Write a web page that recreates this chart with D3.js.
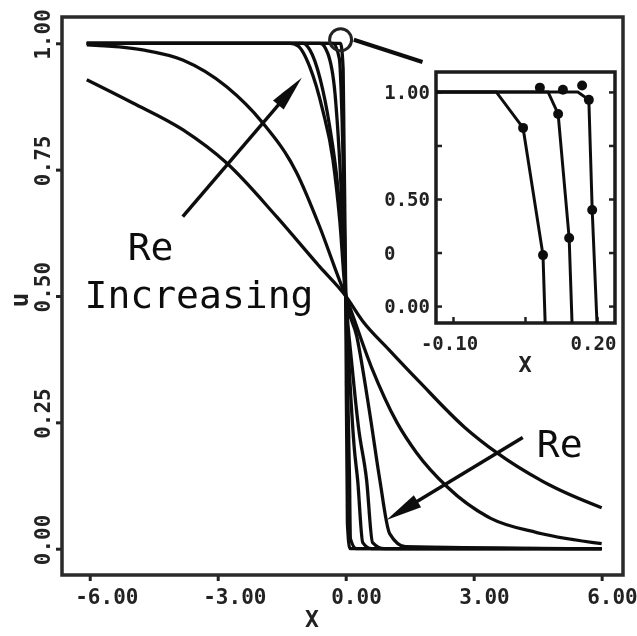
<!DOCTYPE html>
<html>
<head>
<meta charset="utf-8">
<script src="https://cdn.jsdelivr.net/npm/d3@7"></script>
<style>
body { margin: 0; background: #fff; }
svg { display: block; }
</style>
</head>
<body>
<script>
// tick values and labels, main plot
var xTicks = [-6, -3, 0, 3, 6];
var xTickLabels = ["-6.00", "-3.00", "0.00", "3.00", "6.00"];
var yTicks = [0, 0.25, 0.5, 0.75, 1];
var yTickLabels = ["0.00", "0.25", "0.50", "0.75", "1.00"];

// u(x) profiles, lowest Re first
var curveRe1 = [[-6.07,0.928],[-4.99,0.882],[-3.82,0.829],[-2.79,0.763],[-1.62,0.657],[-0.61,0.558],[0,0.5],[0.40,0.45],[1.0,0.395],[1.73,0.33],[2.79,0.24],[3.54,0.19],[4.85,0.123],[6.0,0.081]];
var curveRe2 = [[-6.07,0.997],[-4.76,0.987],[-3.82,0.967],[-2.79,0.914],[-1.95,0.843],[-1.15,0.744],[-0.61,0.637],[-0.14,0.53],[0,0.5],[0.6,0.36],[1.2,0.25],[1.66,0.19],[2.37,0.123],[3.4,0.06],[4.48,0.032],[6.0,0.01]];
var curveRe3 = [[-6.07,1.0],[-1.3,1.0],[-1.12,0.995],[-0.84,0.953],[-0.54,0.868],[-0.3,0.77],[-0.14,0.65],[0,0.5],[0.26,0.42],[0.56,0.27],[0.8,0.136],[1.03,0.03],[1.4,0.004],[6.0,0.0]];
var curveRe4 = [[-6.07,1.0],[-1.0,1.0],[-0.84,0.987],[-0.6,0.93],[-0.375,0.835],[-0.19,0.72],[-0.07,0.6],[0,0.5],[0.15,0.36],[0.3,0.24],[0.49,0.136],[0.63,0.012],[0.9,0.0],[6.0,0.0]];
var curveRe5 = [[-6.07,1.0],[-0.6,1.0],[-0.42,0.98],[-0.25,0.9],[-0.1,0.7],[0,0.5],[0.1,0.33],[0.2,0.2],[0.28,0.136],[0.4,0.012],[0.6,0.0],[6.0,0.0]];
var curveRe6 = [[-6.07,1.0],[-0.3,1.0],[-0.15,0.97],[-0.07,0.8],[0,0.5],[0.05,0.3],[0.09,0.136],[0.11,0.02],[0.25,0.0],[6.0,0.0]];
var curveRe7 = [[-6.07,1.0],[-0.12,1.0],[-0.06,0.95],[0,0.5],[0.04,0.05],[0.1,0.0],[6.0,0.0]];

// inset (close-up near the top of the jump)
var insetXTicks = [-0.1, 0.05, 0.2];
var insetXTickLabels = ["-0.10", "", "0.20"];
var insetYTicks = [0, 0.25, 0.5, 0.75, 1];
var insetYTickLabels = ["0.00", "0", "0.50", "", "1.00"];

var insetCurveA = [[-0.135,1.0],[-0.01,1.0],[0.046,0.832],[0.0875,0.238],[0.092,-0.08]];
var insetCurveB = [[-0.135,1.0],[0.098,1.0],[0.119,0.897],[0.142,0.318],[0.148,-0.08]];
var insetCurveC = [[-0.135,1.0],[0.16,1.0],[0.183,0.963],[0.19,0.449],[0.2,-0.08]];
var insetMarksA = [[0.046,0.832],[0.0875,0.238]];
var insetMarksB = [[0.081,1.02],[0.119,0.897],[0.142,0.318]];
var insetMarksC = [[0.129,1.01],[0.169,1.03],[0.183,0.963],[0.19,0.449]];

var width = 637, height = 636;
var font = "'DejaVu Sans Mono', 'Liberation Mono', monospace";

var svg = d3.select("body").append("svg")
	.attr("width", width).attr("height", height);

// soft scan look
svg.append("defs").append("filter").attr("id", "scan")
	.append("feGaussianBlur").attr("stdDeviation", 0.7);

var g = svg.append("g").attr("filter", "url(#scan)");

var x = d3.scaleLinear().domain([-6.65, 6.5]).range([62, 623]);
var y = d3.scaleLinear().domain([-0.052, 1.052]).range([575, 17]);

// axes
var xAxis = g.append("g")
	.attr("transform", "translate(0," + y.range()[0] + ")")
	.call(d3.axisBottom(x).tickValues(xTicks)
		.tickFormat((d, i) => xTickLabels[i]).tickSize(6).tickSizeOuter(0));
xAxis.select(".domain").remove();
xAxis.selectAll("line").attr("stroke", "#222").attr("stroke-width", 3);
xAxis.selectAll("text")
	.attr("y", 29).attr("dy", null).attr("dx", -15)
	.attr("text-anchor", "start")
	.style("font-family", font).style("font-size", "21px").style("font-weight", "bold")
	.attr("fill", "#222");

var yAxis = g.append("g")
	.attr("transform", "translate(" + x.range()[0] + ",0)")
	.call(d3.axisLeft(y).tickValues(yTicks)
		.tickFormat((d, i) => yTickLabels[i]).tickSize(6).tickSizeOuter(0));
yAxis.select(".domain").remove();
yAxis.selectAll("line").attr("stroke", "#222").attr("stroke-width", 3);
yAxis.selectAll("text")
	.attr("x", null).attr("dy", null)
	.attr("transform", "translate(-12,16) rotate(-90)")
	.attr("text-anchor", "start")
	.style("font-family", font).style("font-size", "21px").style("font-weight", "bold")
	.attr("fill", "#222");

// frame
g.append("rect")
	.attr("x", x.range()[0]).attr("y", y.range()[1])
	.attr("width", x.range()[1] - x.range()[0])
	.attr("height", y.range()[0] - y.range()[1])
	.attr("fill", "none").attr("stroke", "#2a2a2a").attr("stroke-width", 3.5);

g.append("text").text("X")
	.attr("x", 312).attr("y", 627).attr("text-anchor", "middle")
	.style("font-family", font).style("font-size", "23px").style("font-weight", "bold")
	.attr("fill", "#222");
g.append("text").text("u")
	.attr("transform", "translate(28,300) rotate(-90)").attr("text-anchor", "middle")
	.style("font-family", font).style("font-size", "24px").style("font-weight", "bold")
	.attr("fill", "#222");

// curves
var line = d3.line().x(d => x(d[0])).y(d => y(d[1])).curve(d3.curveMonotoneX);
var curves = [curveRe1, curveRe2, curveRe3, curveRe4, curveRe5, curveRe6, curveRe7];
g.append("g").selectAll("path.profile")
	.data(curves).enter()
	.append("path").attr("class", "profile")
	.attr("d", line)
	.attr("fill", "none").attr("stroke", "#111").attr("stroke-width", 3.3);

// arrows and labels
function arrow(x1, y1, x2, y2, len, half) {
	var ax = x(x1), ay = y(y1), bx = x(x2), by = y(y2);
	var dx = bx - ax, dy = by - ay, l = Math.sqrt(dx * dx + dy * dy);
	var ux = dx / l, uy = dy / l;
	g.append("line")
		.attr("x1", ax).attr("y1", ay).attr("x2", bx - ux * len * 0.5).attr("y2", by - uy * len * 0.5)
		.attr("stroke", "#111").attr("stroke-width", 3.5);
	var baseX = bx - ux * len, baseY = by - uy * len;
	g.append("polygon")
		.attr("points", [[bx, by], [baseX - uy * half, baseY + ux * half], [baseX + uy * half, baseY - ux * half]]
			.map(p => p.join(",")).join(" "))
		.attr("fill", "#111");
}
arrow(-3.82, 0.657, -1.03, 0.932, 36, 7);
arrow(4.15, 0.22, 0.96, 0.057, 36, 7);

function label(txt, xv, yv) {
	g.append("text").text(txt)
		.attr("x", x(xv)).attr("y", y(yv))
		.style("font-family", font).style("font-size", "38px")
		.attr("fill", "#111");
}
label("Re", -5.11, 0.572);
label("Increasing", -6.12, 0.477);
label("Re", 4.48, 0.182);

// circled spot and pointer to the inset
g.append("circle")
	.attr("cx", x(-0.12)).attr("cy", y(1.007)).attr("r", 11)
	.attr("fill", "none").attr("stroke", "#222").attr("stroke-width", 3);
g.append("line")
	.attr("x1", x(0.19)).attr("y1", y(1.007)).attr("x2", x(1.80)).attr("y2", y(0.963))
	.attr("stroke", "#111").attr("stroke-width", 4);

// inset
var xi = d3.scaleLinear().domain([-0.1354, 0.2375]).range([436, 615]);
var yi = d3.scaleLinear().domain([-0.079, 1.093]).range([323, 72]);

g.append("clipPath").attr("id", "insetClip")
	.append("rect").attr("x", 436).attr("y", 72).attr("width", 179).attr("height", 251);

g.append("rect")
	.attr("x", 436).attr("y", 72).attr("width", 179).attr("height", 251)
	.attr("fill", "#fff");

var inset = g.append("g");
var ixAxis = inset.append("g")
	.attr("transform", "translate(0," + yi.range()[0] + ")")
	.call(d3.axisBottom(xi).tickValues(insetXTicks)
		.tickFormat((d, i) => insetXTickLabels[i]).tickSize(-6).tickSizeOuter(0));
ixAxis.select(".domain").remove();
ixAxis.selectAll("line").attr("stroke", "#222").attr("stroke-width", 2.5);
ixAxis.selectAll("text")
	.attr("y", 27).attr("dy", null).attr("dx", -4)
	.style("font-family", font).style("font-size", "19px").style("font-weight", "bold")
	.attr("fill", "#222");

var iyAxis = inset.append("g")
	.attr("transform", "translate(" + xi.range()[0] + ",0)")
	.call(d3.axisLeft(yi).tickValues(insetYTicks)
		.tickFormat((d, i) => insetYTickLabels[i]).tickSize(-6).tickSizeOuter(0));
iyAxis.select(".domain").remove();
iyAxis.selectAll("line").attr("stroke", "#222").attr("stroke-width", 2.5);
iyAxis.selectAll("text")
	.attr("x", -6).attr("dy", "0.35em")
	.style("font-family", font).style("font-size", "19px").style("font-weight", "bold")
	.attr("fill", "#222");
iyAxis.selectAll(".tick").filter((d, i) => insetYTickLabels[i] === "0")
	.select("text").attr("x", -52).attr("text-anchor", "start");

var iyRight = inset.append("g")
	.attr("transform", "translate(" + xi.range()[1] + ",0)")
	.call(d3.axisRight(yi).tickValues(insetYTicks).tickFormat("").tickSize(-6).tickSizeOuter(0));
iyRight.select(".domain").remove();
iyRight.selectAll("line").attr("stroke", "#222").attr("stroke-width", 2.5);

inset.append("rect")
	.attr("x", 436).attr("y", 72).attr("width", 179).attr("height", 251)
	.attr("fill", "none").attr("stroke", "#1a1a1a").attr("stroke-width", 3.5);

inset.append("text").text("X")
	.attr("x", 525).attr("y", 372).attr("text-anchor", "middle")
	.style("font-family", font).style("font-size", "22px").style("font-weight", "bold")
	.attr("fill", "#222");

var iline = d3.line().x(d => xi(d[0])).y(d => yi(d[1]));
var insetLines = inset.append("g").attr("clip-path", "url(#insetClip)");
insetLines.selectAll("path")
	.data([insetCurveA, insetCurveB, insetCurveC]).enter()
	.append("path").attr("d", iline)
	.attr("fill", "none").attr("stroke", "#111").attr("stroke-width", 3);
insetLines.selectAll("circle")
	.data(insetMarksA.concat(insetMarksB, insetMarksC)).enter()
	.append("circle")
	.attr("cx", d => xi(d[0])).attr("cy", d => yi(d[1])).attr("r", 5)
	.attr("fill", "#111");
</script>
</body>
</html>
